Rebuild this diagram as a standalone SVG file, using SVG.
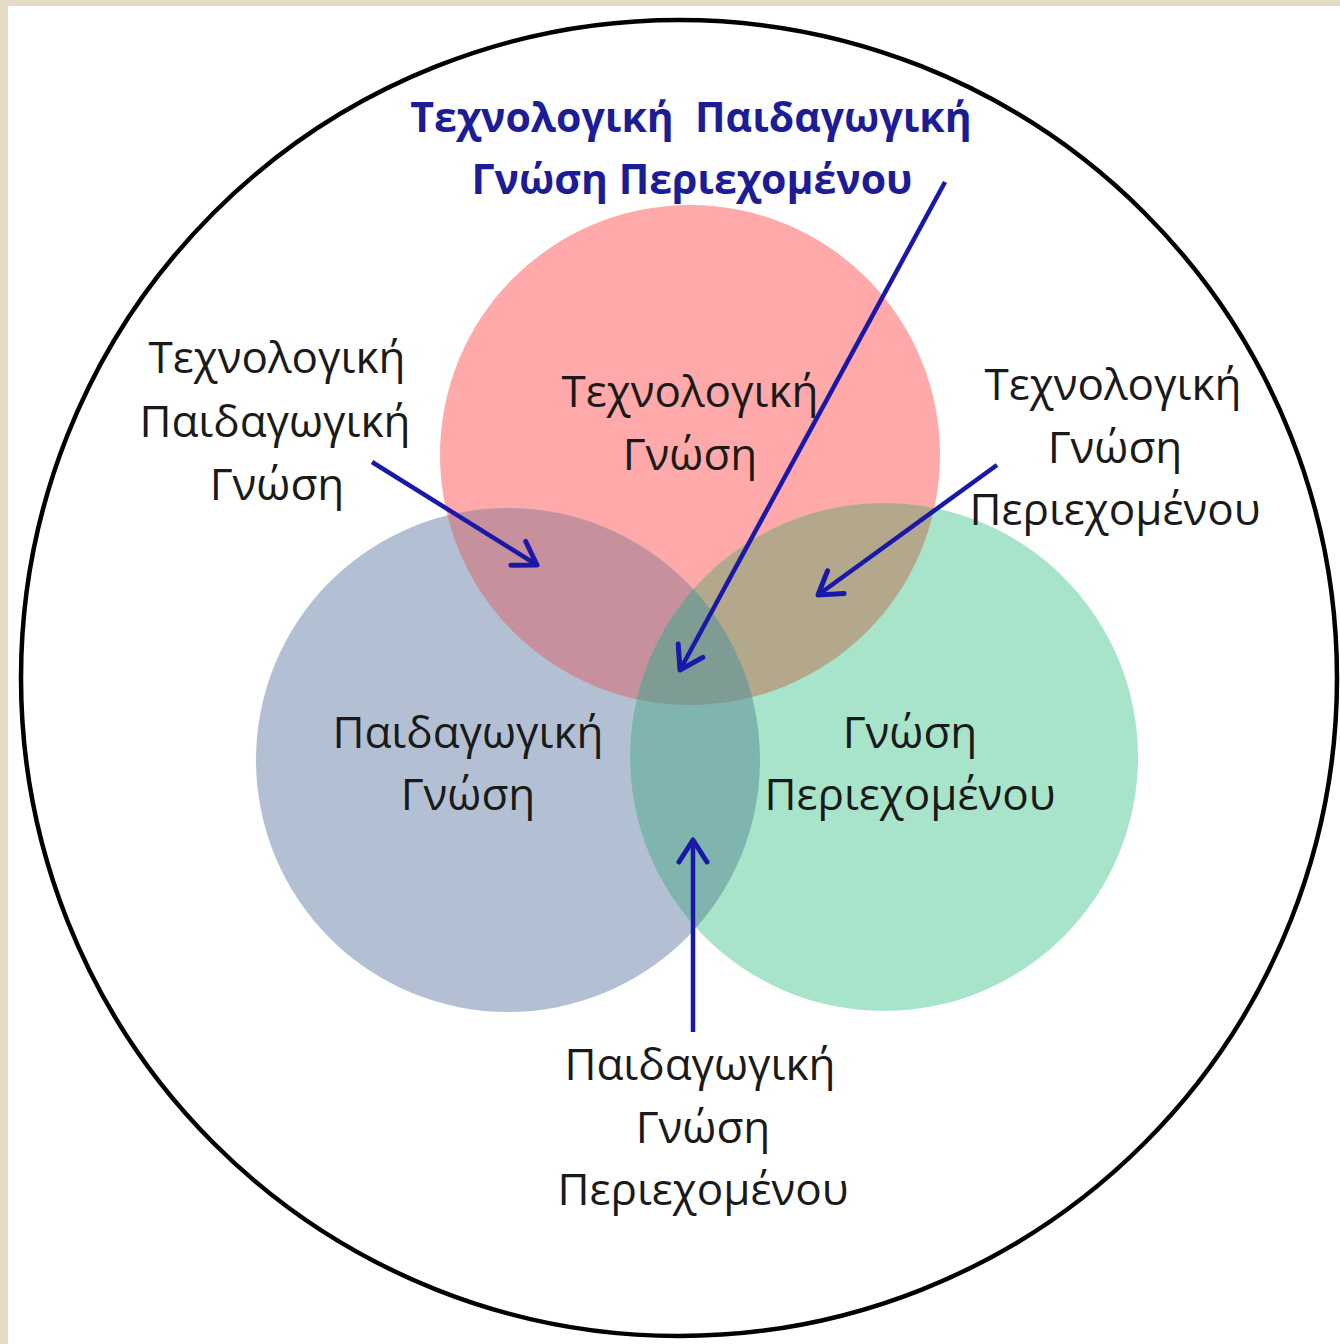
<svg xmlns="http://www.w3.org/2000/svg" width="1340" height="1344" viewBox="0 0 1340 1344">
<defs>
<style>
.lbl{font-family:"Open Sans","DejaVu Sans",sans-serif;font-size:44px;fill:#1a1a1a;text-anchor:middle}
.ttl{font-family:"Open Sans","DejaVu Sans",sans-serif;font-size:41px;font-weight:bold;fill:#1c1c96;text-anchor:middle}
.arr{stroke:#1a18a8;stroke-width:4.5;fill:none;marker-end:url(#ah)}
</style>
<marker id="ah" markerUnits="userSpaceOnUse" markerWidth="40" markerHeight="40" viewBox="-30 -20 40 40" refX="0" refY="0" orient="auto">
<path d="M-22,-14 L0,0 L-22,14" fill="none" stroke="#1a18a8" stroke-width="5" stroke-linecap="round" stroke-linejoin="round"/>
</marker>
<clipPath id="cR"><circle cx="690" cy="455" r="250"/></clipPath>
<clipPath id="cB"><circle cx="508" cy="760" r="252"/></clipPath>
</defs>
<rect x="0" y="0" width="1340" height="1344" fill="#e6dcc6"/>
<rect x="8" y="6" width="1332" height="1338" fill="#ffffff"/>
<circle id="outer" cx="679" cy="678" r="658" fill="none" stroke="#000" stroke-width="4.5"/>
<g id="tk"><circle cx="690" cy="455" r="250" fill="#ffa9aa"/></g>
<g id="pk"><circle cx="508" cy="760" r="252" fill="#b3c0d4"/></g>
<g id="ck"><circle cx="884" cy="757" r="254" fill="#a7e4c9"/></g>
<g id="tpk" clip-path="url(#cR)"><circle cx="508" cy="760" r="252" fill="#c6919d"/></g>
<g id="tck" clip-path="url(#cR)"><circle cx="884" cy="757" r="254" fill="#b3a88b"/></g>
<g id="pck" clip-path="url(#cB)"><circle cx="884" cy="757" r="254" fill="#7fb5ae"/></g>
<g id="tpck" clip-path="url(#cR)"><g clip-path="url(#cB)"><circle cx="884" cy="757" r="254" fill="#7e9c94"/></g></g>
<g id="labels">
<text class="ttl" x="691" y="132" xml:space="preserve">Τεχνολογική  Παιδαγωγική</text>
<text class="ttl" x="692" y="194">Γνώση Περιεχομένου</text>
<text class="lbl" x="277" y="373">Τεχνολογική</text>
<text class="lbl" x="275" y="437">Παιδαγωγική</text>
<text class="lbl" x="277" y="500">Γνώση</text>
<text class="lbl" x="690" y="407">Τεχνολογική</text>
<text class="lbl" x="690" y="470">Γνώση</text>
<text class="lbl" x="1113" y="400">Τεχνολογική</text>
<text class="lbl" x="1115" y="463">Γνώση</text>
<text class="lbl" x="1115" y="525">Περιεχομένου</text>
<text class="lbl" x="468" y="748">Παιδαγωγική</text>
<text class="lbl" x="468" y="810">Γνώση</text>
<text class="lbl" x="910" y="748">Γνώση</text>
<text class="lbl" x="910" y="810">Περιεχομένου</text>
<text class="lbl" x="700" y="1080">Παιδαγωγική</text>
<text class="lbl" x="703" y="1143">Γνώση</text>
<text class="lbl" x="703" y="1205">Περιεχομένου</text>
</g>
<g id="connectors">
<line class="arr" x1="372" y1="462" x2="537" y2="565"/>
<line class="arr" x1="997" y1="465" x2="818" y2="595"/>
<line class="arr" x1="945" y1="182" x2="680" y2="670"/>
<line class="arr" x1="693" y1="1032" x2="693" y2="840"/>
</g>
</svg>
